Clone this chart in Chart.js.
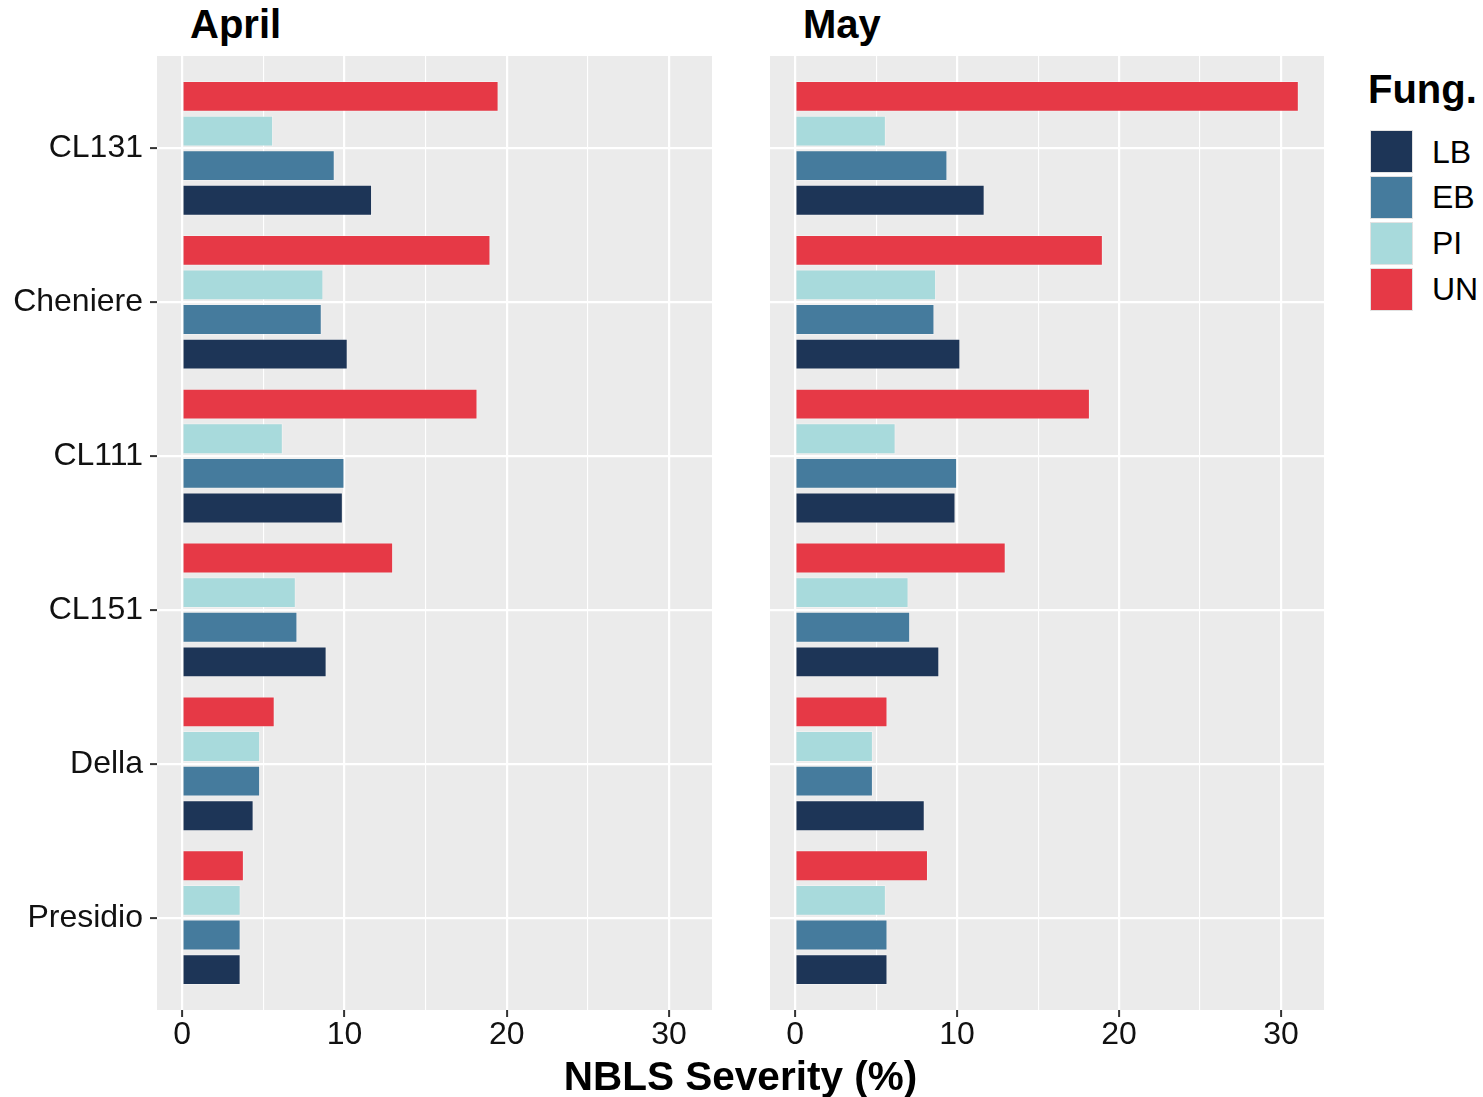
<!DOCTYPE html>
<html>
<head>
<meta charset="utf-8">
<script src="https://cdn.jsdelivr.net/npm/chart.js@4.4.0/dist/chart.umd.min.js"></script>
<style>
   body { margin: 0; background: #fff; }
   #wrap {
      position: relative;
      width: 1483px;
      height: 1097px;
      overflow: hidden;
      font-family: "Liberation Sans", Arial, sans-serif;
      color: #000;
   }
   canvas { position: absolute; }
   .bold-text {
      position: absolute;
      font-weight: bold;
      font-size: 40px;
      line-height: 40px;
      white-space: nowrap;
   }
   .key {
      position: absolute;
      width: 43px;
      height: 43px;
      box-sizing: border-box;
      border: 1px solid #e2e2e2;
   }
   .key-label {
      position: absolute;
      font-size: 32px;
      line-height: 32px;
      white-space: nowrap;
   }
</style>
</head>
<body>
<div id="wrap">
   <canvas id="april-chart" width="712" height="1015" style="left:0;top:56px"></canvas>
   <canvas id="may-chart" width="554" height="1015" style="left:770px;top:56px"></canvas>
</div>
<script>
const FONT = '"Liberation Sans", Arial, sans-serif';

const cultivars = ["CL131", "Cheniere", "CL111", "CL151", "Della", "Presidio"];
const fungicides = ["LB", "EB", "PI", "UN"];
const fungColors = ["#1D3557", "#457B9D", "#A8DADC", "#E63946"];
const months = ["April", "May"];
const xTicks = [0, 5, 10, 15, 20, 25, 30];

// NBLS severity (%), one value per cultivar
const aprilLB = [11.7, 10.2, 9.9, 8.9, 4.4, 3.6];
const aprilEB = [9.4, 8.6, 10.0, 7.1, 4.8, 3.6];
const aprilPI = [5.6, 8.7, 6.2, 7.0, 4.8, 3.6];
const aprilUN = [19.5, 19.0, 18.2, 13.0, 5.7, 3.8];

const mayLB = [11.7, 10.2, 9.9, 8.9, 8.0, 5.7];
const mayEB = [9.4, 8.6, 10.0, 7.1, 4.8, 5.7];
const mayPI = [5.6, 8.7, 6.2, 7.0, 4.8, 5.6];
const mayUN = [31.1, 19.0, 18.2, 13.0, 5.7, 8.2];

const xMax = Math.max(
   ...aprilLB, ...aprilEB, ...aprilPI, ...aprilUN,
   ...mayLB, ...mayEB, ...mayPI, ...mayUN
);

const panelBackground = {
   id: "panelBackground",
   beforeDraw(chart) {
      const { ctx, chartArea: a } = chart;
      ctx.save();
      ctx.fillStyle = "#EBEBEB";
      ctx.fillRect(a.left, a.top, a.right - a.left, a.bottom - a.top);
      ctx.restore();
   },
};

// datasets go top to bottom inside each cultivar: UN, PI, EB, LB
const makeDatasets = (seriesValues) =>
   fungicides
      .map((name, i) => ({ name, values: seriesValues[i], color: fungColors[i] }))
      .reverse()
      .map(({ name, values, color }) => ({
         label: name,
         data: values.map((v, idx) => ({ x: v, y: idx })),
         backgroundColor: color,
         borderColor: "rgba(255, 255, 255, 0.3)",
         borderWidth: 1,
         borderSkipped: "start",
         categoryPercentage: 0.9,
         barPercentage: 0.8 / 0.9,
      }));

const isMajor = (ctx) => ctx.tick && ctx.tick.value % 10 === 0;

const createPanel = (canvasId, datasets, showYLabels) => {
   const canvas = document.getElementById(canvasId);

   return new Chart(canvas, {
      type: "bar",
      data: { datasets },
      options: {
         indexAxis: "y",
         responsive: false,
         animation: false,
         devicePixelRatio: 1,
         events: [],
         layout: { padding: 0 },
         plugins: {
            legend: { display: false },
            tooltip: { enabled: false },
         },
         scales: {
            x: {
               type: "linear",
               bounds: "data",
               offset: false,
               min: -0.05 * xMax,
               max: 1.05 * xMax,
               afterBuildTicks: (scale) => {
                  scale.ticks = xTicks.map((value) => ({ value }));
               },
               afterFit: (scale) => {
                  scale.height = 61;
                  scale.paddingLeft = 0;
                  scale.paddingRight = 0;
               },
               border: { display: false },
               grid: {
                  offset: false,
                  color: "#FFFFFF",
                  lineWidth: (ctx) => (isMajor(ctx) ? 2.2 : 1.1),
                  tickColor: (ctx) => (isMajor(ctx) ? "#333333" : "rgba(0,0,0,0)"),
                  tickWidth: 2,
                  tickLength: 7,
               },
               ticks: {
                  padding: -1,
                  color: "#111111",
                  font: { family: FONT, size: 32 },
                  callback: (value) => (value % 10 === 0 ? value : ""),
               },
            },
            y: {
               type: "linear",
               reverse: true,
               bounds: "data",
               offset: false,
               min: -0.6,
               max: cultivars.length - 0.4,
               afterBuildTicks: (scale) => {
                  scale.ticks = cultivars.map((_, i) => ({ value: i }));
               },
               afterFit: (scale) => {
                  scale.width = showYLabels ? 157 : 0;
                  scale.paddingTop = 0;
                  scale.paddingBottom = 0;
               },
               border: { display: false },
               grid: {
                  offset: false,
                  color: "#FFFFFF",
                  lineWidth: 2.2,
                  drawTicks: showYLabels,
                  tickColor: "#333333",
                  tickWidth: 2,
                  tickLength: 7,
               },
               ticks: {
                  display: showYLabels,
                  padding: 7,
                  color: "#111111",
                  font: { family: FONT, size: 32 },
                  callback: (value) => cultivars[value],
               },
            },
         },
      },
      plugins: [panelBackground],
   });
};

const addText = (className, text, style) => {
   const el = document.createElement("div");
   el.className = className;
   el.textContent = text;
   Object.assign(el.style, style);
   document.getElementById("wrap").appendChild(el);
   return el;
};

createPanel("april-chart", makeDatasets([aprilLB, aprilEB, aprilPI, aprilUN]), true);
createPanel("may-chart", makeDatasets([mayLB, mayEB, mayPI, mayUN]), false);

// facet strips
addText("bold-text", months[0], { left: "190px", top: "4px" });
addText("bold-text", months[1], { left: "803px", top: "4px" });

// x axis title
addText("bold-text", "NBLS Severity (%)", {
   left: "157px",
   width: "1167px",
   textAlign: "center",
   top: "1056px",
   fontSize: "40.5px",
});

// legend
addText("bold-text", "Fung.", { left: "1368px", top: "69px" });
fungicides.forEach((name, i) => {
   const top = 130 + i * 45.9;
   const key = addText("key", "", { left: "1370px", top: `${top}px` });
   key.style.background = fungColors[i];
   addText("key-label", name, { left: "1432px", top: `${top + 5.5}px` });
});
</script>
</body>
</html>
